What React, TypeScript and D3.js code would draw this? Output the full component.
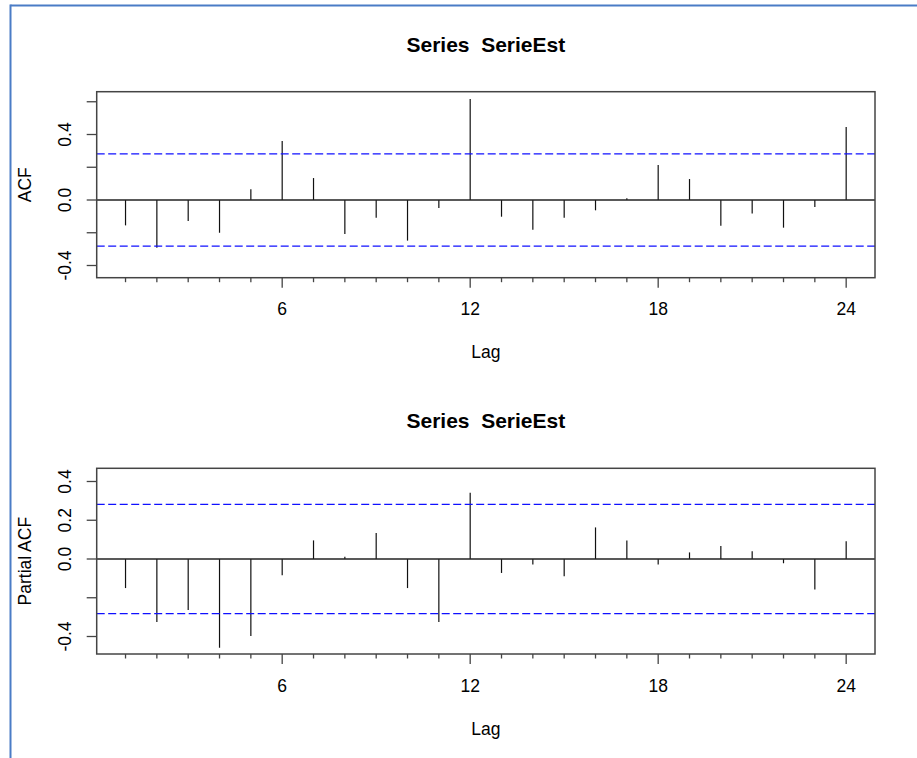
import React from "react";
import * as d3 from "d3";

const lags = d3.range(1, 25);
const acfValues = [
  -0.155, -0.291, -0.128, -0.2, 0.065, 0.36, 0.134, -0.208, -0.108, -0.248, -0.049, 0.617,
  -0.102, -0.181, -0.108, -0.063, 0.01, 0.214, 0.128, -0.157, -0.083, -0.169, -0.043, 0.446,
];
const pacfValues = [
  -0.15, -0.325, -0.263, -0.458, -0.397, -0.084, 0.096, 0.012, 0.134, -0.15, -0.325, 0.342,
  -0.072, -0.029, -0.089, 0.163, 0.096, -0.029, 0.034, 0.067, 0.04, -0.022, -0.157, 0.091,
];
const confLimit = 0.282;
const xMajorTicks = [6, 12, 18, 24];
const acfYTicks = [-0.4, -0.2, 0, 0.2, 0.4, 0.6];
const acfYLabels = [-0.4, 0, 0.4];
const pacfYTicks = [-0.4, -0.2, 0, 0.2, 0.4];
const pacfYLabels = [-0.4, 0, 0.2, 0.4];
const titleText = "Series\u00A0 SerieEst";
const xLabel = "Lag";

const FONT = "'Liberation Sans', Arial, Helvetica, sans-serif";

type PanelProps = {
  values: number[];
  top: number;
  bottom: number;
  yDomain: [number, number];
  yTicks: number[];
  yLabels: number[];
  yTitle: string;
};

const LEFT = 96.7;
const RIGHT = 875;

function Panel({ values, top, bottom, yDomain, yTicks, yLabels, yTitle }: PanelProps) {
  const x = d3.scaleLinear().domain([1 - 0.92, 24 + 0.92]).range([LEFT, RIGHT]);
  const y = d3.scaleLinear().domain(yDomain).range([bottom, top]);
  const fmt = (v: number) => (Math.abs(v) < 1e-9 ? "0.0" : d3.format(".1f")(v).replace("−", "-"));
  const cx = (LEFT + RIGHT) / 2;
  const cy = (top + bottom) / 2;
  return (
    <g>
      <text x={cx} y={top - 40} textAnchor="middle" fontFamily={FONT} fontWeight="bold" fontSize={21} fill="#000" style={{ whiteSpace: "pre" }}>
        {titleText}
      </text>
      {values.map((v, i) => (
        <line key={i} x1={x(lags[i])} x2={x(lags[i])} y1={y(0)} y2={y(v)} stroke="#111" strokeWidth={1.2} />
      ))}
      <line x1={LEFT} x2={RIGHT} y1={y(0)} y2={y(0)} stroke="#222" strokeWidth={1.3} />
      {[confLimit, -confLimit].map((c, i) => (
        <line key={i} x1={LEFT} x2={RIGHT} y1={y(c)} y2={y(c)} stroke="#1010ff" strokeWidth={1.3} strokeDasharray="8,3.5" />
      ))}
      <rect x={LEFT} y={top} width={RIGHT - LEFT} height={bottom - top} fill="none" stroke="#444" strokeWidth={1.5} />
      {lags.map((l) => (
        <line key={l} x1={x(l)} x2={x(l)} y1={bottom} y2={bottom + (xMajorTicks.includes(l) ? 10 : 4.5)} stroke="#444" strokeWidth={1.3} />
      ))}
      {xMajorTicks.map((l) => (
        <text key={l} x={x(l)} y={bottom + 37.5} textAnchor="middle" fontFamily={FONT} fontSize={17.5} fill="#000">
          {l}
        </text>
      ))}
      <text x={cx} y={bottom + 80.5} textAnchor="middle" fontFamily={FONT} fontSize={17.5} fill="#000">
        {xLabel}
      </text>
      {yTicks.map((t) => (
        <line key={t} x1={LEFT - 10} x2={LEFT} y1={y(t)} y2={y(t)} stroke="#444" strokeWidth={1.3} />
      ))}
      {yLabels.map((t) => (
        <text key={t} transform={`translate(71,${y(t)}) rotate(-90)`} textAnchor="middle" fontFamily={FONT} fontSize={17.5} fill="#000">
          {fmt(t)}
        </text>
      ))}
      <text transform={`translate(31,${cy}) rotate(-90)`} textAnchor="middle" fontFamily={FONT} fontSize={17.5} fill="#000">
        {yTitle}
      </text>
    </g>
  );
}

export default function App() {
  return (
    <svg width={917} height={758} style={{ position: "absolute", left: 0, top: 0, background: "#fff" }}>
      <rect x={0} y={0} width={917} height={758} fill="#fff" />
      <line x1={10.5} x2={917} y1={5.5} y2={5.5} stroke="#4a7cc6" strokeWidth={2} />
      <line x1={10.5} x2={10.5} y1={4.5} y2={758} stroke="#4a7cc6" strokeWidth={2} />
      <Panel
        values={acfValues}
        top={91.7}
        bottom={277.7}
        yDomain={[-0.4745, 0.6614]}
        yTicks={acfYTicks}
        yLabels={acfYLabels}
        yTitle="ACF"
      />
      <Panel
        values={pacfValues}
        top={468.3}
        bottom={654}
        yDomain={[-0.4903, 0.4681]}
        yTicks={pacfYTicks}
        yLabels={pacfYLabels}
        yTitle="Partial ACF"
      />
    </svg>
  );
}
